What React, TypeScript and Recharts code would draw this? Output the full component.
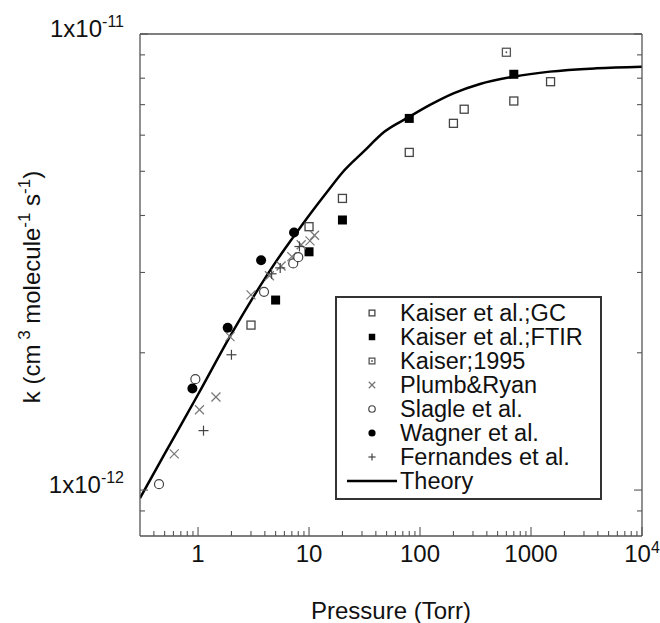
import { ComposedChart, Legend, Line, Scatter, XAxis, YAxis } from 'recharts'

// pressure in Torr, k in units of 1e-12 cm3 molecule-1 s-1
const kaiserGC = [
  { p: 3, k: 2.3 },
  { p: 10, k: 3.78 },
  { p: 20, k: 4.36 },
  { p: 80, k: 5.5 },
  { p: 200, k: 6.37 },
  { p: 250, k: 6.84 },
  { p: 700, k: 7.13 },
  { p: 1500, k: 7.86 },
]

const kaiserFTIR = [
  { p: 5, k: 2.61 },
  { p: 10, k: 3.33 },
  { p: 20, k: 3.91 },
  { p: 80, k: 6.53 },
  { p: 700, k: 8.16 },
]

const kaiser1995 = [{ p: 600, k: 9.12 }]

const plumbRyan = [
  { p: 0.61, k: 1.2 },
  { p: 1.03, k: 1.5 },
  { p: 1.45, k: 1.6 },
  { p: 1.94, k: 2.17 },
  { p: 3.0, k: 2.68 },
  { p: 4.4, k: 2.95 },
  { p: 5.6, k: 3.1 },
  { p: 7.0, k: 3.25 },
  { p: 8.5, k: 3.45 },
  { p: 10.2, k: 3.52 },
  { p: 11.2, k: 3.62 },
]

const slagle = [
  { p: 0.445, k: 1.03 },
  { p: 0.946, k: 1.75 },
  { p: 3.93, k: 2.72 },
  { p: 7.2, k: 3.14 },
  { p: 8.0, k: 3.24 },
]

const wagner = [
  { p: 0.89, k: 1.67 },
  { p: 1.85, k: 2.27 },
  { p: 3.7, k: 3.19 },
  { p: 7.33, k: 3.67 },
]

const fernandes = [
  { p: 1.12, k: 1.35 },
  { p: 2.0, k: 1.98 },
  { p: 4.6, k: 2.98 },
  { p: 5.5, k: 3.07 },
  { p: 8.2, k: 3.42 },
]

const theory = [
  { p: 0.3, k: 0.96 },
  { p: 0.5, k: 1.2 },
  { p: 1, k: 1.62 },
  { p: 2, k: 2.2 },
  { p: 3, k: 2.6 },
  { p: 5, k: 3.16 },
  { p: 7.3, k: 3.6 },
  { p: 10, k: 4.0 },
  { p: 15, k: 4.55 },
  { p: 20, k: 4.97 },
  { p: 31, k: 5.52 },
  { p: 48, k: 6.11 },
  { p: 79, k: 6.57 },
  { p: 123, k: 6.99 },
  { p: 200, k: 7.41 },
  { p: 347, k: 7.77 },
  { p: 693, k: 8.06 },
  { p: 1480, k: 8.27 },
  { p: 3900, k: 8.41 },
  { p: 10000, k: 8.48 },
]

const xTicks = [
  0.4, 0.5, 0.6, 0.7, 0.8, 0.9, 1, 2, 3, 4, 5, 6, 7, 8, 9, 10, 20, 30, 40, 50, 60, 70, 80, 90, 100,
  200, 300, 400, 500, 600, 700, 800, 900, 1000, 2000, 3000, 4000, 5000, 6000, 7000, 8000, 9000, 10000,
]
const xMajorTicks = [1, 10, 100, 1000, 10000]
const xMajorLabels = [['1', ''], ['10', ''], ['100', ''], ['1000', ''], ['10', '4']]

const yTicks = [0.9, 1, 2, 3, 4, 5, 6, 7, 8, 9, 10]
const yMajorTicks = [1, 10]
const yMajorLabels = [['1x10', '-12'], ['1x10', '-11']]

const legendNames = [
  'Kaiser et al.;GC',
  'Kaiser et al.;FTIR',
  'Kaiser;1995',
  'Plumb&Ryan',
  'Slagle et al.',
  'Wagner et al.',
  'Fernandes et al.',
  'Theory',
]
const legendMarkers = ['openSquare', 'filledSquare', 'dotSquare', 'cross', 'openCircle', 'filledCircle', 'plus', 'line']

const font = '"Liberation Sans", Arial, Helvetica, sans-serif'
const axisColor = '#555'

function Marker({ type, cx, cy, s = 1 }: { type: string; cx: number; cy: number; s?: number }) {
  switch (type) {
    case 'openSquare':
      return <rect x={cx - 4 * s} y={cy - 4 * s} width={8 * s} height={8 * s} fill="#fff" stroke="#444" strokeWidth={1.3} />
    case 'filledSquare':
      return <rect x={cx - 4.5 * s} y={cy - 4.5 * s} width={9 * s} height={9 * s} fill="#000" />
    case 'dotSquare':
      return (
        <g>
          <rect x={cx - 4 * s} y={cy - 4 * s} width={8 * s} height={8 * s} fill="#fff" stroke="#555" strokeWidth={1.3} />
          <circle cx={cx} cy={cy} r={0.9} fill="#555" />
        </g>
      )
    case 'cross':
      return (
        <g stroke="#777" strokeWidth={1.2}>
          <line x1={cx - 4.5 * s} y1={cy - 4.5 * s} x2={cx + 4.5 * s} y2={cy + 4.5 * s} />
          <line x1={cx - 4.5 * s} y1={cy + 4.5 * s} x2={cx + 4.5 * s} y2={cy - 4.5 * s} />
        </g>
      )
    case 'openCircle':
      return <circle cx={cx} cy={cy} r={4.5 * s} fill="#fff" stroke="#444" strokeWidth={1.2} />
    case 'filledCircle':
      return <circle cx={cx} cy={cy} r={5 * s} fill="#000" />
    case 'plus':
      return (
        <g stroke="#444" strokeWidth={1.2}>
          <line x1={cx - 5 * s} y1={cy} x2={cx + 5 * s} y2={cy} />
          <line x1={cx} y1={cy - 5 * s} x2={cx} y2={cy + 5 * s} />
        </g>
      )
    default:
      return null
  }
}

const shapeOf = (type: string) => (props: any) => <Marker type={type} cx={props.cx} cy={props.cy} />

function XTick(props: any) {
  const { x, y, payload, side } = props
  const i = xMajorTicks.indexOf(payload.value)
  const len = i >= 0 ? 9 : 5
  const dir = side === 'top' ? 1 : -1
  return (
    <g>
      <line x1={x} x2={x} y1={y} y2={y + dir * len} stroke={axisColor} strokeWidth={1.1} />
      {side === 'bottom' && i >= 0 && (
        <text x={x} y={y + 26} textAnchor="middle" fontSize={24} fontFamily={font} fill="#111">
          {xMajorLabels[i][0]}
          {xMajorLabels[i][1] && (
            <tspan dy={-9} fontSize={16}>
              {xMajorLabels[i][1]}
            </tspan>
          )}
        </text>
      )}
    </g>
  )
}

function YTick(props: any) {
  const { x, y, payload, side } = props
  const i = yMajorTicks.indexOf(payload.value)
  const len = i >= 0 ? 8 : 5
  const dir = side === 'right' ? -1 : 1
  return (
    <g>
      <line x1={x} x2={x + dir * len} y1={y} y2={y} stroke={axisColor} strokeWidth={1.1} />
      {side === 'left' && i >= 0 && (
        <text x={x - 16} y={y + 3} textAnchor="end" fontSize={24} fontFamily={font} fill="#111">
          {yMajorLabels[i][0]}
          <tspan dy={-10} fontSize={16}>
            {yMajorLabels[i][1]}
          </tspan>
        </text>
      )}
    </g>
  )
}

function XTitle(props: any) {
  const vb = props.viewBox || { x: 140, width: 502, y: 536 }
  return (
    <text x={vb.x + vb.width / 2} y={619} textAnchor="middle" fontSize={24} fontFamily={font} fill="#111">
      Pressure (Torr)
    </text>
  )
}

function YTitle(props: any) {
  const vb = props.viewBox || { y: 34, height: 502 }
  const cy = vb.y + vb.height / 2 + 2
  return (
    <text
      x={40}
      y={cy}
      transform={`rotate(-90 40 ${cy})`}
      textAnchor="middle"
      fontSize={24}
      fontFamily={font}
      fill="#111"
    >
      k (cm
      <tspan dy={-10} fontSize={17}> 3</tspan>
      <tspan dy={10}> molecule</tspan>
      <tspan dy={-10} fontSize={17}>-1</tspan>
      <tspan dy={10}> s</tspan>
      <tspan dy={-10} fontSize={17}>-1</tspan>
      <tspan dy={10}>)</tspan>
    </text>
  )
}

function LegendBox() {
  return (
    <div
      style={{
        border: '2px solid #333',
        background: '#fff',
        width: 263,
        boxSizing: 'content-box',
        padding: '3px 0 5px 0',
        fontFamily: font,
        fontSize: 23.5,
        color: '#111',
      }}
    >
      {legendNames.map((name, i) => (
        <div key={name} style={{ display: 'flex', alignItems: 'center', height: 24, lineHeight: '24px' }}>
          <svg width={63} height={24} style={{ flex: 'none' }}>
            {legendMarkers[i] === 'line' ? (
              <line x1={10} x2={60} y1={12} y2={12} stroke="#000" strokeWidth={2.5} />
            ) : (
              <Marker type={legendMarkers[i]} cx={35} cy={12} s={0.72} />
            )}
          </svg>
          <span style={{ whiteSpace: 'nowrap' }}>{name}</span>
        </div>
      ))}
    </div>
  )
}

const axisLine = { stroke: axisColor, strokeWidth: 1.3 }

export default function App() {
  return (
    <div style={{ position: 'absolute', left: 0, top: 0, background: '#fff' }}>
      <ComposedChart width={660} height={623} margin={{ top: 33, right: 17, bottom: 86, left: 139 }}>
        <XAxis
          dataKey="p"
          type="number"
          scale="log"
          domain={[0.3, 10000]}
          allowDataOverflow
          ticks={xTicks}
          interval={0}
          height={1}
          tickSize={0}
          tickMargin={0}
          axisLine={axisLine}
          tick={<XTick side="bottom" />}
          label={<XTitle />}
        />
        <XAxis
          xAxisId="top"
          orientation="top"
          type="number"
          scale="log"
          domain={[0.3, 10000]}
          allowDataOverflow
          ticks={xTicks}
          interval={0}
          height={1}
          tickSize={0}
          tickMargin={0}
          axisLine={axisLine}
          tick={<XTick side="top" />}
        />
        <YAxis
          dataKey="k"
          type="number"
          scale="log"
          domain={[0.793, 10]}
          allowDataOverflow
          ticks={yTicks}
          interval={0}
          width={1}
          tickSize={0}
          tickMargin={0}
          axisLine={axisLine}
          tick={<YTick side="left" />}
          label={<YTitle />}
        />
        <YAxis
          yAxisId="right"
          orientation="right"
          type="number"
          scale="log"
          domain={[0.793, 10]}
          allowDataOverflow
          ticks={yTicks}
          interval={0}
          width={1}
          tickSize={0}
          tickMargin={0}
          axisLine={axisLine}
          tick={<YTick side="right" />}
        />
        <Line
          data={theory}
          dataKey="k"
          name="Theory"
          type="monotone"
          stroke="#000"
          strokeWidth={2.5}
          dot={false}
          isAnimationActive={false}
        />
        <Scatter data={kaiserGC} dataKey="k" name="Kaiser et al.;GC" shape={shapeOf('openSquare')} isAnimationActive={false} />
        <Scatter data={kaiserFTIR} dataKey="k" name="Kaiser et al.;FTIR" shape={shapeOf('filledSquare')} isAnimationActive={false} />
        <Scatter data={kaiser1995} dataKey="k" name="Kaiser;1995" shape={shapeOf('dotSquare')} isAnimationActive={false} />
        <Scatter data={plumbRyan} dataKey="k" name="Plumb&Ryan" shape={shapeOf('cross')} isAnimationActive={false} />
        <Scatter data={slagle} dataKey="k" name="Slagle et al." shape={shapeOf('openCircle')} isAnimationActive={false} />
        <Scatter data={wagner} dataKey="k" name="Wagner et al." shape={shapeOf('filledCircle')} isAnimationActive={false} />
        <Scatter data={fernandes} dataKey="k" name="Fernandes et al." shape={shapeOf('plus')} isAnimationActive={false} />
        <Legend
          layout="vertical"
          align="center"
          verticalAlign="middle"
          content={<LegendBox />}
          wrapperStyle={{ left: 335, top: 296, right: 'auto', bottom: 'auto', width: 'auto' }}
        />
      </ComposedChart>
    </div>
  )
}
